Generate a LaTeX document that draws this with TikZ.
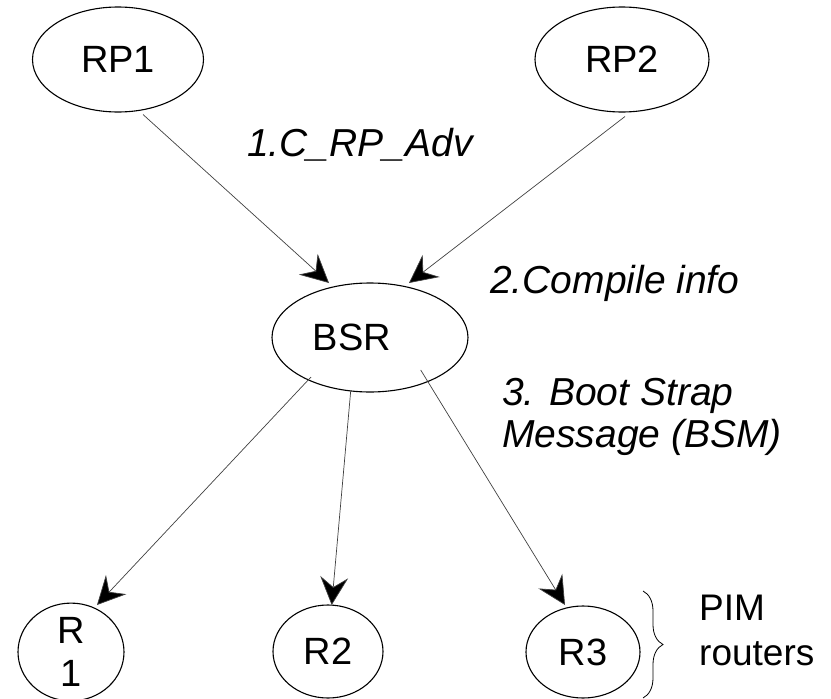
\documentclass[tikz,border=0pt]{standalone}
\usepackage{fontspec}
\setmainfont{Liberation Sans}
\usetikzlibrary{shapes.geometric,arrows.meta,calc,decorations.pathreplacing}

\tikzset{
  oval/.style={ellipse, draw=black, line width=1.1pt, inner sep=0pt},
  lbl/.style={anchor=base west, inner sep=0pt, font=\fontsize{39}{43}\selectfont\itshape},
  plain/.style={anchor=base west, inner sep=0pt, font=\fontsize{37}{43}\selectfont},
  link/.style={draw=black!75, line width=0.7pt,
    -{Stealth[length=28pt, width=28pt, inset=10pt, fill=black]}},
}

\begin{document}
\begin{tikzpicture}[x=1pt, y=-1pt, font=\fontsize{38}{43}\selectfont]
  \useasboundingbox (0,0) rectangle (831,699);

  % rendezvous points and bootstrap router
  \node[oval, minimum width=171pt, minimum height=105pt] (rp1) at (118,59.5) {RP1};
  \node[oval, minimum width=174pt, minimum height=105pt] (rp2) at (622,59.5) {RP2};
  \node[oval, minimum width=196pt, minimum height=109pt,
        label={[inner sep=0pt, xshift=-18pt]center:BSR}] (bsr) at (370,337.5) {};

  % PIM routers
  \node[oval, minimum width=106pt, minimum height=93pt, align=center] (r1) at (71,652) {R\\1};
  \node[oval, minimum width=110pt, minimum height=93pt] (r2) at (328,651.5) {R2};
  \node[oval, minimum width=114pt, minimum height=92pt] (r3) at (583,652) {R3};

  % candidate RP advertisements
  \draw[link] ($(rp1)+(25,55)$) -- ($(bsr)+(-41,-54.5)$);
  \draw[link] ($(rp2)+(3,57)$) -- ($(bsr)+(39,-54.5)$);

  % bootstrap messages
  \draw[link] ($(bsr)+(-59,39.5)$) -- ($(r1)+(26,-47)$);
  \draw[link] ($(bsr)+(-19.3,53.5)$) -- ($(r2)+(3.7,-46.5)$);
  \draw[link] ($(bsr)+(50.7,32.5)$) -- ($(r3)+(-18,-47)$);

  % step labels
  \node[lbl] (s1) at (247,156) {1.C\_RP\_Adv};
  \node[lbl] (s2) at (490,293) {2.Compile info};
  \node[lbl] (s3a) at (502,405) {3. Boot Strap};
  \node[lbl] (s3b) at (502,447) {Message (BSM)};

  % grouping brace
  \coordinate (bt) at (643,591);
  \coordinate (bb) at (643,698);
  \draw[decorate, decoration={brace, amplitude=20pt}, line width=0.8pt] (bt) -- (bb);
  \node[plain] (pim) at (699,620) {PIM};
  \node[plain] (rtr) at (699,665) {routers};
\end{tikzpicture}
\end{document}
